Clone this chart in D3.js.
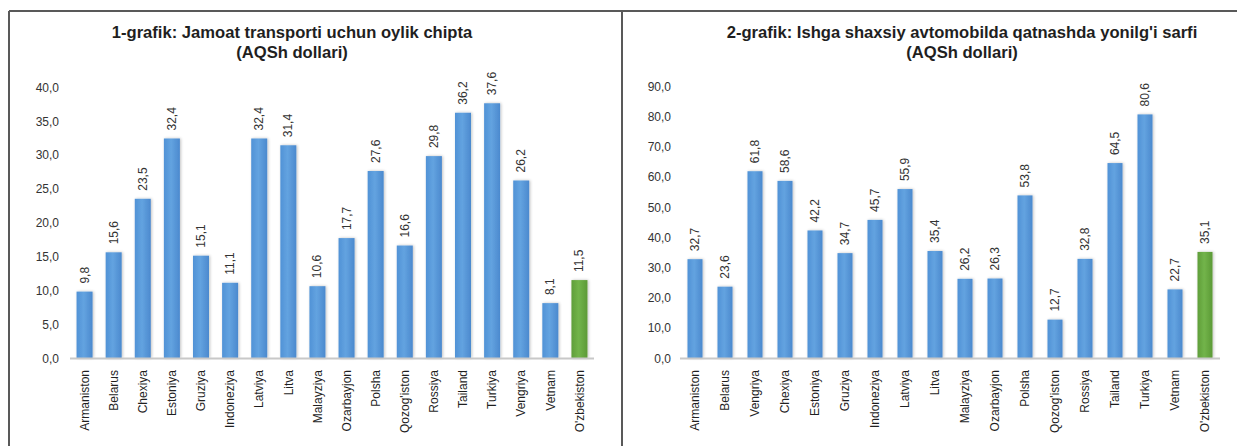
<!DOCTYPE html>
<html>
<head>
<meta charset="utf-8">
<script src="https://cdn.jsdelivr.net/npm/d3@7"></script>
<style>
body{margin:0;background:#fff;}
svg text{font-family:Arial,"Liberation Sans",sans-serif;}
</style>
</head>
<body>
<svg id="_svg" width="1237" height="446"></svg>
<script>
// 1-grafik
var cats1 = ["Armaniston","Belarus","Chexiya","Estoniya","Gruziya","Indoneziya","Latviya","Litva","Malayziya","Ozarbayjon","Polsha","Qozog'iston","Rossiya","Tailand","Turkiya","Vengriya","Vetnam","O'zbekiston"];
var vals1 = [9.8,15.6,23.5,32.4,15.1,11.1,32.4,31.4,10.6,17.7,27.6,16.6,29.8,36.2,37.6,26.2,8.1,11.5];
var ticks1 = [0,5,10,15,20,25,30,35,40];
var title1 = ["1-grafik: Jamoat transporti uchun oylik chipta","(AQSh dollari)"];

// 2-grafik
var cats2 = ["Armaniston","Belarus","Vengriya","Chexiya","Estoniya","Gruziya","Indoneziya","Latviya","Litva","Malayziya","Ozarbayjon","Polsha","Qozog'iston","Rossiya","Tailand","Turkiya","Vetnam","O'zbekiston"];
var vals2 = [32.7,23.6,61.8,58.6,42.2,34.7,45.7,55.9,35.4,26.2,26.3,53.8,12.7,32.8,64.5,80.6,22.7,35.1];
var ticks2 = [0,10,20,30,40,50,60,70,80,90];
var title2 = ["2-grafik: Ishga shaxsiy avtomobilda qatnashda yonilg'i sarfi","(AQSh dollari)"];

var svg = d3.select("svg");
var fmt = function(v){ return v.toFixed(1).replace(".", ","); };

// gradients
var defs = svg.append("defs");
function grad(id, c0, c1, c2){
    var g = defs.append("linearGradient").attr("id", id).attr("x1","0").attr("x2","1").attr("y1","0").attr("y2","0");
    g.append("stop").attr("offset","0%").attr("stop-color", c0);
    g.append("stop").attr("offset","45%").attr("stop-color", c1);
    g.append("stop").attr("offset","100%").attr("stop-color", c2);
}
grad("gBlue", "#5092d6", "#63a3e0", "#4b89ce");
grad("gGreen", "#5f9e3a", "#72b44a", "#5c9a37");
var f = defs.append("filter").attr("id","shadow").attr("x","-50%").attr("y","-10%").attr("width","200%").attr("height","120%");
f.append("feGaussianBlur").attr("in","SourceAlpha").attr("stdDeviation",1.5).attr("result","b");
f.append("feOffset").attr("in","b").attr("dx",1).attr("dy",0).attr("result","o");
f.append("feComponentTransfer").attr("in","o").attr("result","t")
  .append("feFuncA").attr("type","linear").attr("slope",0.25);
var m = f.append("feMerge");
m.append("feMergeNode").attr("in","t");
m.append("feMergeNode").attr("in","SourceGraphic");

// frame
svg.append("line").attr("x1",9).attr("x2",1237).attr("y1",11).attr("y2",11).style("stroke","#595959").style("stroke-width",2);
svg.append("line").attr("x1",9).attr("x2",9).attr("y1",11).attr("y2",446).style("stroke","#595959").style("stroke-width",2);
svg.append("line").attr("x1",622).attr("x2",622).attr("y1",11).attr("y2",446).style("stroke","#595959").style("stroke-width",2);

function drawChart(cfg){
    var g = svg.append("g");
    var x = d3.scaleBand().domain(cfg.cats).range([cfg.x0, cfg.x1]).paddingInner(cfg.pad).paddingOuter(cfg.pad/2);
    var y = d3.scaleLinear().domain([0, cfg.ymax]).range([358, cfg.ytop]);

    // title
    g.append("text").attr("x", cfg.tx).attr("y", 38).attr("text-anchor","middle")
        .style("font-size","16.6px").style("font-weight","bold").style("fill","#1f1f1f").text(cfg.title[0]);
    g.append("text").attr("x", cfg.tx).attr("y", 58).attr("text-anchor","middle")
        .style("font-size","16.6px").style("font-weight","bold").style("fill","#1f1f1f").text(cfg.title[1]);

    // y axis labels
    var ya = d3.axisLeft(y).tickValues(cfg.ticks).tickFormat(fmt).tickSize(0).tickPadding(0);
    var yg = g.append("g").attr("transform","translate(" + cfg.lx + ",0)").call(ya);
    yg.select(".domain").remove();
    yg.selectAll("text").style("font-size","12px").style("fill","#333").attr("dy","0.35em");

    // bars
    g.selectAll("rect.bar").data(cfg.vals).enter().append("rect")
        .attr("class","bar")
        .attr("x", function(d,i){ return x(cfg.cats[i]); })
        .attr("width", x.bandwidth())
        .attr("y", function(d){ return y(d); })
        .attr("height", function(d){ return y(0) - y(d); })
        .attr("fill", function(d,i){ return i == cfg.cats.length-1 ? "url(#gGreen)" : "url(#gBlue)"; })
        .attr("filter","url(#shadow)");

    // baseline
    g.append("line").attr("x1", cfg.x0).attr("x2", cfg.x1).attr("y1", 358.5).attr("y2", 358.5)
        .style("stroke","#c8c8c8").style("stroke-width",2);

    // value labels
    g.selectAll("text.val").data(cfg.vals).enter().append("text")
        .attr("class","val")
        .attr("transform", function(d,i){
            return "translate(" + (x(cfg.cats[i]) + x.bandwidth()/2 + 4) + "," + (y(d) - 8) + ") rotate(-90)";
        })
        .style("font-size","12px").style("fill","#333").text(fmt);

    // x labels
    var xa = d3.axisBottom(x).tickSize(0).tickPadding(0);
    var xg = g.append("g").attr("transform","translate(0,370)").call(xa);
    xg.select(".domain").remove();
    xg.selectAll("text")
        .attr("transform","rotate(-90)")
        .attr("x",0).attr("y",0).attr("dy","0.35em")
        .attr("text-anchor","end")
        .style("font-size","12px").style("fill","#1f1f1f");
}

drawChart({cats:cats1, vals:vals1, ticks:ticks1, title:title1, ymax:40, ytop:87, x0:70, x1:594, pad:0.45, lx:59, tx:292});
drawChart({cats:cats2, vals:vals2, ticks:ticks2, title:title2, ymax:90, ytop:86, x0:680, x1:1220, pad:0.5, lx:671, tx:962});
</script>
</body>
</html>
